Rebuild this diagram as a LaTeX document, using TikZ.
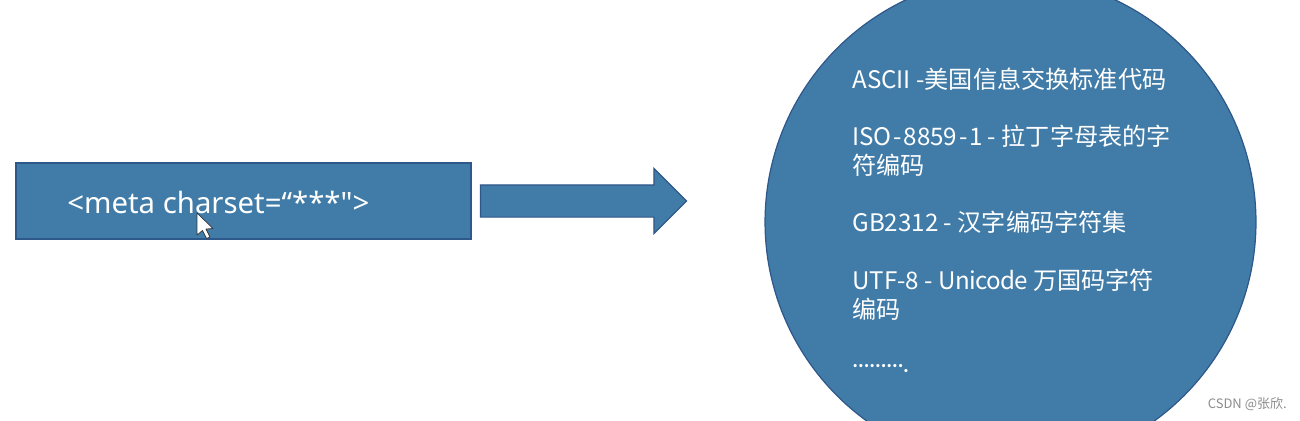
\documentclass[tikz,border=0pt]{standalone}
\usepackage{fontspec}
\setmainfont{Noto Sans CJK SC}
\newfontfamily\latinfont{Noto Sans}
\usetikzlibrary{shapes.arrows}
\definecolor{slideblue}{RGB}{65,124,168}
\definecolor{slideedge}{RGB}{47,88,138}
\tikzset{
  shp/.style    ={fill=slideblue,draw=slideedge,line width=0.7pt,inner sep=0pt},
  itm/.style    ={anchor=north west,align=left,inner sep=0pt,text=white,
                  font=\fontsize{13.75}{16.4}\selectfont},
}
\begin{document}
\begin{tikzpicture}[x=0.02cm, y=-0.02cm]
\useasboundingbox (0,0) rectangle (1300,420);
%% the circle, cut off by the page
\begin{scope}
  \clip (0,0) rectangle (1300,420);
  \node[shp,circle,minimum size=9.82cm] (cset) at (1010.5,222) {};
\end{scope}
%% left: the meta tag and the arrow
\node[shp,minimum width=9.1cm,minimum height=1.52cm] (metabox) at (243.5,201) {};
\node[anchor=base west,inner sep=0pt,text=white,font=\latinfont\fontsize{16.7}{20}\selectfont]
      (metatxt) at (67,213) {<meta charset=“***">};
\node[shp,single arrow,minimum height=4.12cm,inner ysep=0.31cm,
      single arrow head extend=0.33cm] (arr) at (575.5,201) {};
%% mouse pointer
\draw[fill=white,draw=black!80,line width=0.4pt,line join=round]
      (197,213) -- (197,235) -- (202.5,230.5) -- (206.5,238.5) -- (210,237)
      -- (206,229) -- (213,228.5) -- cycle;
%% right: the list in the circle
\node[itm] (ascii) at (852,68) {ASCII -美国信息交换标准代码};
\node[itm] (iso)   at (852,125) {ISO\kern1pt-\kern1pt8859\kern1pt-\kern1pt1 - 拉丁字母表的字\\符编码};
\node[itm] (gb)    at (852,211) {GB2312 - 汉字编码字符集};
\node[itm] (utf)   at (852,269) {UTF-8 - {\addfontfeature{LetterSpace=-3}Unicode} 万国码字符\\编码};
\node[itm,font=\bfseries\fontsize{8.6}{11}\selectfont] (more) at (852,364) {\raisebox{3pt}{………}.};
\node[anchor=east,inner sep=0pt,text=black!45,font=\fontsize{7.4}{9}\selectfont]
      (mark) at (1287,404) {CSDN @张欣.};
\end{tikzpicture}
\end{document}
